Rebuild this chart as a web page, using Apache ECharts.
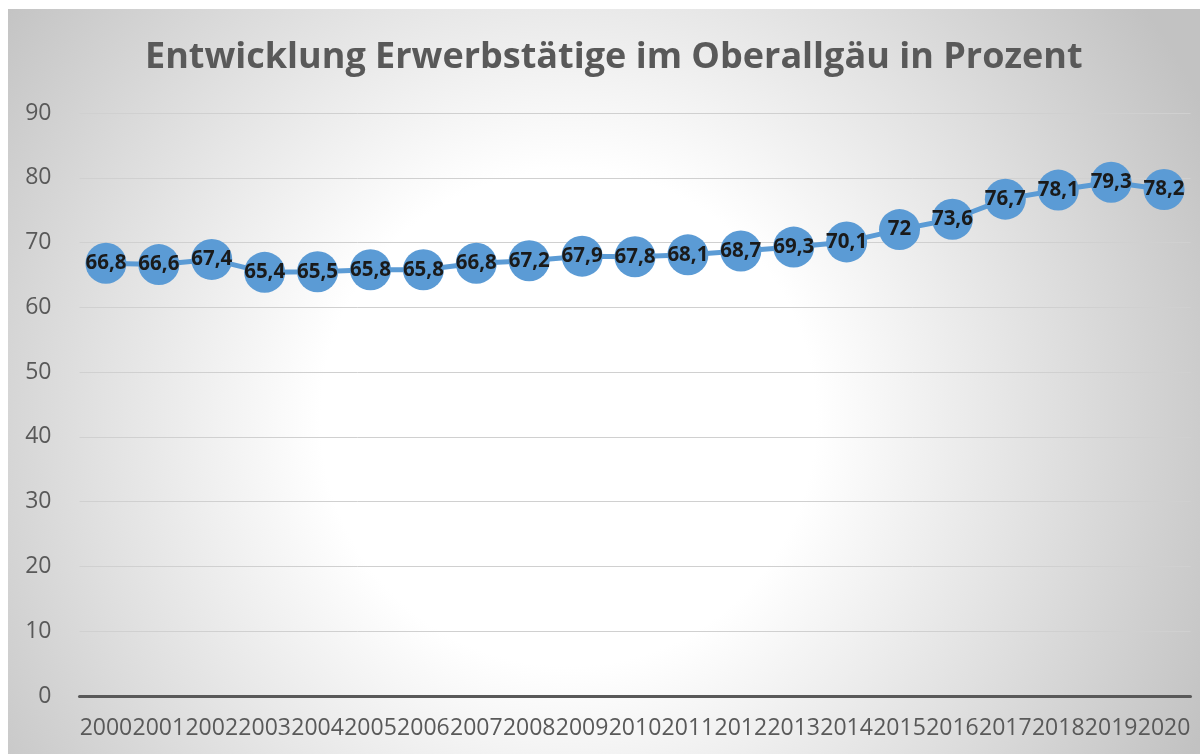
<!DOCTYPE html>
<html>
<head>
<meta charset="utf-8">
<script src="https://cdn.jsdelivr.net/npm/echarts@6/dist/echarts.min.js"></script>
<style>
  html, body { margin: 0; padding: 0; background: #ffffff; }
  #chart { position: absolute; left: 8px; top: 9px; width: 1192px; height: 745px; }
</style>
</head>
<body>
<div id="chart"></div>
<script>
// Jahre und Erwerbstätigenquote (Prozent)
const years = ['2000', '2001', '2002', '2003', '2004', '2005', '2006', '2007', '2008', '2009', '2010',
  '2011', '2012', '2013', '2014', '2015', '2016', '2017', '2018', '2019', '2020']
const quote = [66.8, 66.6, 67.4, 65.4, 65.5, 65.8, 65.8, 66.8, 67.2, 67.9, 67.8,
  68.1, 68.7, 69.3, 70.1, 72, 73.6, 76.7, 78.1, 79.3, 78.2]

const chart = echarts.init(document.getElementById('chart'))

const option = {
  backgroundColor: new echarts.graphic.RadialGradient(0.47, 0.55, 0.95, [
    { offset: 0, color: '#ffffff' },
    { offset: 0.35, color: '#ffffff' },
    { offset: 1, color: '#c2c2c2' },
  ]),
  textStyle: { fontFamily: 'Open Sans' },
  title: {
    text: 'Entwicklung Erwerbstätige im Oberallgäu in Prozent',
    left: 137,
    top: 31,
    padding: 0,
    textStyle: { fontSize: 36, fontWeight: 'bold', color: '#595959', fontFamily: 'Open Sans' },
  },
  grid: { left: 71.5, right: 9.5, top: 104, bottom: 58, containLabel: false },
  xAxis: {
    type: 'category',
    data: years,
    boundaryGap: true,
    axisLine: { lineStyle: { color: '#595959', width: 3 } },
    axisTick: { show: false },
    axisLabel: { color: '#595959', fontSize: 23, margin: 21, interval: 0 },
  },
  yAxis: {
    type: 'value',
    min: 0,
    max: 90,
    interval: 10,
    axisLine: { show: false },
    axisTick: { show: false },
    axisLabel: { color: '#595959', fontSize: 23, margin: 28 },
    splitLine: { lineStyle: { color: '#d0d0d0', width: 1 } },
  },
  series: [
    {
      type: 'line',
      data: quote,
      symbol: 'circle',
      symbolSize: 41,
      itemStyle: { color: '#5b9bd5' },
      lineStyle: { color: '#5b9bd5', width: 5 },
      label: {
        show: true,
        position: 'inside',
        color: '#1a1a1a',
        fontSize: 20.5,
        fontWeight: 'bold',
        fontFamily: 'Open Sans',
        formatter: (p) => String(p.value).replace('.', ','),
      },
    },
  ],
}

chart.setOption(option)
</script>
</body>
</html>
